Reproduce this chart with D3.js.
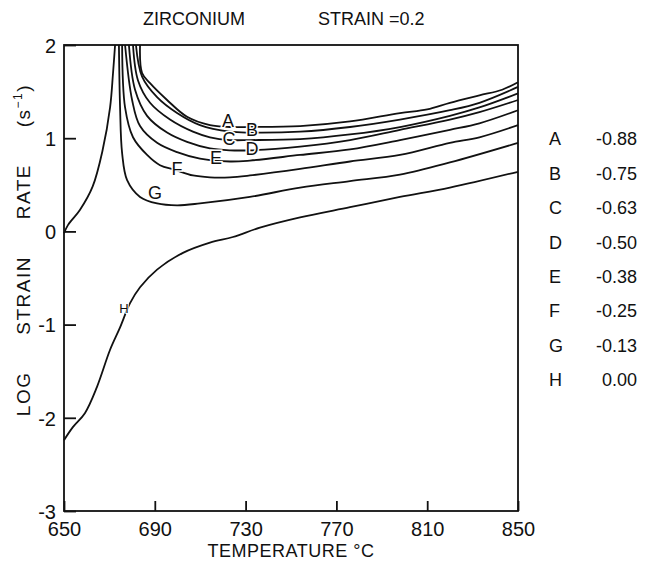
<!DOCTYPE html>
<html>
<head>
<meta charset="utf-8">
<script src="https://cdn.jsdelivr.net/npm/d3@7"></script>
<style>
  body { margin: 0; background: #fff; }
  svg text { font-family: 'Liberation Sans', 'DejaVu Sans', sans-serif; fill: #111; }
</style>
</head>
<body>
<div id="chart"></div>
<script>
// contour labels and their values
const contourNames = ['A', 'B', 'C', 'D', 'E', 'F', 'G', 'H']
const contourValues = [-0.88, -0.75, -0.63, -0.50, -0.38, -0.25, -0.13, 0.00]

const xTicks = [650, 690, 730, 770, 810, 850]
const yTicks = [-3, -2, -1, 0, 1, 2]

// [temperature, log strain rate]
const curveA = [[683.5, 2.0], [684.4, 1.70], [687.9, 1.59], [695.4, 1.41], [704.2, 1.23], [714.3, 1.14], [723.1, 1.12], [731.9, 1.12], [754, 1.13], [776, 1.18], [798, 1.27], [810, 1.31], [820, 1.38], [833, 1.46], [843, 1.52], [850, 1.60]]
const curveB = [[681.7, 2.0], [684.4, 1.66], [691, 1.44], [699.8, 1.27], [709.9, 1.14], [723.1, 1.07], [731.9, 1.06], [754, 1.07], [776, 1.12], [798, 1.20], [820, 1.30], [833, 1.38], [850, 1.55]]
const curveC = [[680.4, 2.0], [682.6, 1.62], [687.9, 1.38], [696.7, 1.20], [706.8, 1.07], [714.3, 1.01], [723.1, 0.98], [731.9, 0.98], [754, 0.99], [776, 1.04], [798, 1.12], [820, 1.24], [833, 1.33], [850, 1.48]]
const curveD = [[678.6, 2.0], [681.3, 1.52], [686.6, 1.24], [695.4, 1.06], [704.2, 0.96], [714.3, 0.89], [723.1, 0.87], [731.9, 0.87], [754, 0.91], [776, 0.98], [798, 1.09], [820, 1.20], [833, 1.28], [850, 1.41]]
const curveE = [[676.9, 2.0], [680, 1.41], [683.5, 1.13], [691, 0.95], [699.8, 0.85], [709.9, 0.78], [723.1, 0.75], [731.9, 0.76], [754, 0.82], [776, 0.88], [798, 0.98], [820, 1.09], [833, 1.16], [850, 1.30]]
const curveF = [[675.6, 2.0], [676.9, 1.33], [680.4, 1.01], [686.6, 0.82], [692.3, 0.71], [698.9, 0.66], [706.8, 0.60], [714.3, 0.58], [723.1, 0.58], [731.9, 0.60], [754, 0.67], [776, 0.75], [798, 0.82], [820, 0.95], [833, 1.01], [850, 1.14]]
const curveG = [[674.2, 2.0], [674.7, 1.33], [675.6, 0.84], [677.8, 0.55], [683.5, 0.37], [691, 0.30], [699.8, 0.28], [709.9, 0.30], [731.9, 0.37], [754, 0.47], [776, 0.54], [798, 0.61], [820, 0.74], [850, 0.95]]
const curveH = [[650, -2.24], [653.9, -2.10], [659.2, -1.95], [664.5, -1.67], [670.3, -1.27], [674.7, -1.03], [679.1, -0.77], [683.5, -0.60], [691, -0.41], [702.4, -0.23], [714.3, -0.12], [724.4, -0.06], [736.3, 0.04], [754, 0.15], [776, 0.26], [798, 0.37], [820, 0.47], [850, 0.64]]
const curveHLeft = [[650, -0.02], [651.8, 0.07], [657, 0.23], [662.6, 0.48], [667, 0.87], [670.3, 1.33], [671.6, 1.70], [672.5, 2.0]]

// label anchor points on the curves
const labelPoints = [[722.2, 1.19], [732.8, 1.09], [722.7, 1.0], [732.8, 0.89], [717, 0.79], [699.8, 0.67], [690.1, 0.42], [676.4, -0.83]]

const curves = [curveA, curveB, curveC, curveD, curveE, curveF, curveG, curveH, curveHLeft]

const width = 651
const height = 561
const margin = { left: 64, top: 45, right: 133, bottom: 50 }
const innerWidth = width - margin.left - margin.right
const innerHeight = height - margin.top - margin.bottom

const svg = d3.select('#chart')
  .append('svg')
  .attr('width', width)
  .attr('height', height)

const chart = svg.append('g')
  .attr('transform', `translate(${margin.left}, ${margin.top})`)

const xScale = d3.scaleLinear().domain([650, 850]).range([0, innerWidth])
const yScale = d3.scaleLinear().domain([-3, 2]).range([innerHeight, 0])

const line = d3.line()
  .x(d => xScale(d[0]))
  .y(d => yScale(d[1]))
  .curve(d3.curveCatmullRom.alpha(0.5))

chart.selectAll('.contour')
  .data(curves)
  .join('path')
  .attr('class', 'contour')
  .attr('d', line)
  .attr('fill', 'none')
  .attr('stroke', '#111')
  .attr('stroke-width', 1.8)

// frame
chart.append('rect')
  .attr('width', innerWidth)
  .attr('height', innerHeight)
  .attr('fill', 'none')
  .attr('stroke', '#111')
  .attr('stroke-width', 1.8)

const xAxis = d3.axisBottom(xScale)
  .tickValues(xTicks)
  .tickSizeInner(-10)
  .tickSizeOuter(0)
  .tickPadding(11)

const yAxis = d3.axisLeft(yScale)
  .tickValues(yTicks)
  .tickSizeInner(-12)
  .tickSizeOuter(0)
  .tickPadding(8)
  .tickFormat(d => String(d))

const gx = chart.append('g')
  .attr('transform', `translate(0, ${innerHeight})`)
  .call(xAxis)

const gy = chart.append('g').call(yAxis)

;[gx, gy].forEach(g => {
  g.select('.domain').remove()
  g.selectAll('line').attr('stroke', '#111').attr('stroke-width', 1.8)
  g.selectAll('text')
    .attr('font-size', 20)
    .attr('font-family', "'Liberation Sans', sans-serif")
    .attr('fill', '#111')
})
gy.selectAll('text').attr('dy', '0.36em')

// curve labels
chart.selectAll('.clabel')
  .data(labelPoints)
  .join('text')
  .attr('class', 'clabel')
  .attr('x', d => xScale(d[0]))
  .attr('y', d => yScale(d[1]))
  .attr('text-anchor', 'middle')
  .attr('dy', '0.36em')
  .attr('font-size', (d, i) => (i === 7 ? 13 : 18))
  .attr('stroke', '#fff')
  .attr('stroke-width', (d, i) => (i === 7 ? 2 : 3))
  .attr('paint-order', 'stroke')
  .text((d, i) => contourNames[i])

// titles
svg.append('text')
  .attr('x', 143)
  .attr('y', 25)
  .attr('font-size', 18)
  .text('ZIRCONIUM')

svg.append('text')
  .attr('x', 318)
  .attr('y', 25)
  .attr('font-size', 18)
  .text('STRAIN =0.2')

svg.append('text')
  .attr('x', margin.left + innerWidth / 2)
  .attr('y', 557)
  .attr('text-anchor', 'middle')
  .attr('font-size', 18)
  .attr('letter-spacing', 0.5)
  .text('TEMPERATURE °C')

const yLabel = svg.append('text')
  .attr('transform', `translate(30, 250) rotate(-90)`)
  .attr('text-anchor', 'middle')
  .attr('font-size', 19)
  .attr('letter-spacing', 1.5)
  .attr('word-spacing', 30)
yLabel.append('tspan').text('LOG STRAIN RATE (s')
yLabel.append('tspan').attr('font-size', 12).attr('dy', -8).text('−1')
yLabel.append('tspan').attr('dy', 8).text(')')

// legend of contour values
const legend = svg.append('g')
  .selectAll('g')
  .data(contourNames)
  .join('g')
  .attr('transform', (d, i) => `translate(0, ${139 + i * 34.4})`)

legend.append('text')
  .attr('x', 549)
  .attr('dy', '0.36em')
  .attr('font-size', 18)
  .text(d => d)

legend.append('text')
  .attr('x', 637)
  .attr('dy', '0.36em')
  .attr('text-anchor', 'end')
  .attr('font-size', 18)
  .text((d, i) => d3.format('.2f')(contourValues[i]).replace('−', '-'))
</script>
</body>
</html>
